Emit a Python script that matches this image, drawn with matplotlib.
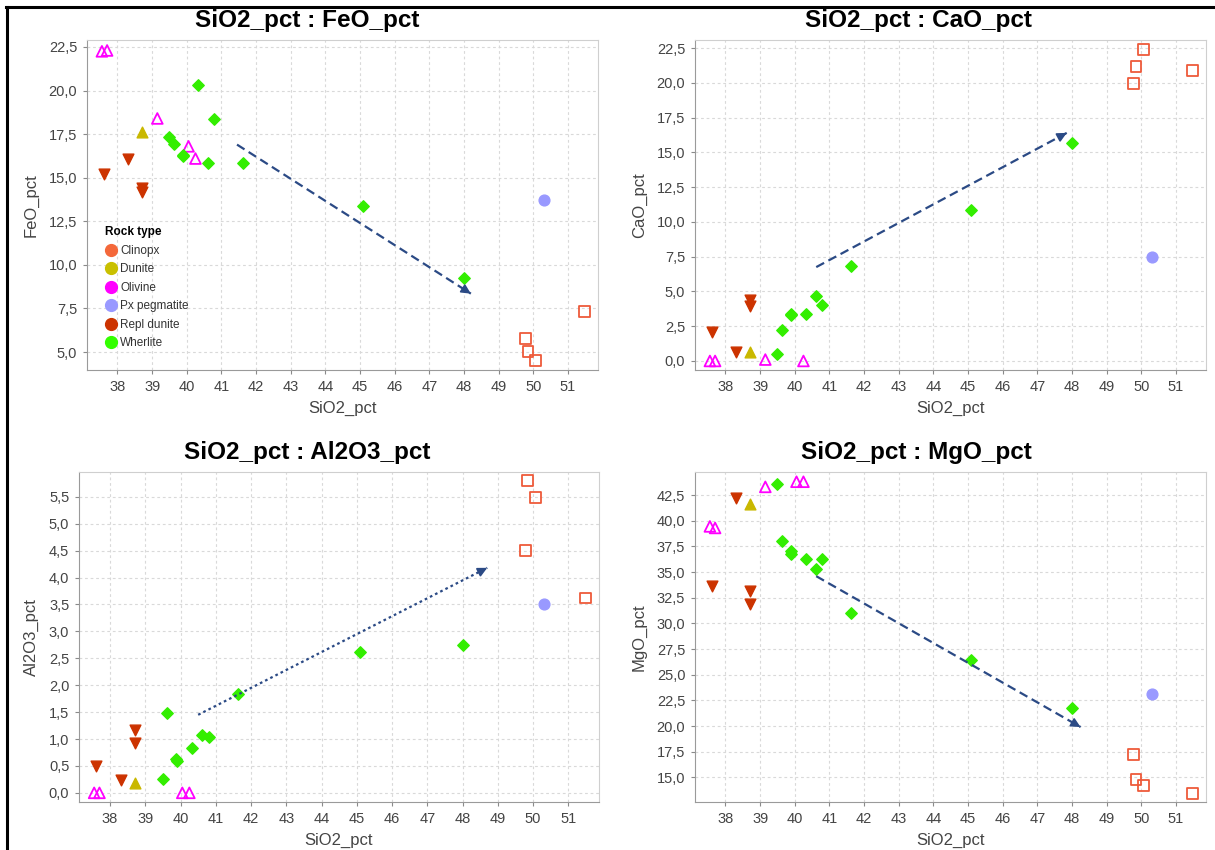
import numpy as np
import matplotlib
matplotlib.use('Agg')
from matplotlib import pyplot as plt
from matplotlib.lines import Line2D
from matplotlib.ticker import FuncFormatter, MultipleLocator

plt.rcParams['font.family'] = ['Liberation Sans', 'DejaVu Sans']

nan = np.nan

# SiO2 per rock type (x in all four panels)
clinopx_sio2 = [49.78, 49.85, 50.07, 51.48]
dunite_sio2 = [38.7]
olivine_sio2 = [37.55, 37.7, 39.15, 40.05, 40.25]
pxpeg_sio2 = [50.3]
repl_sio2 = [37.6, 38.3, 38.7, 38.7]
wherlite_sio2 = [39.5, 39.62, 39.88, 39.9, 40.33, 40.6, 40.8, 41.62, 45.1, 48.0]

# FeO_pct
clinopx_feo = [5.8, 5.05, 4.5, 7.3]
dunite_feo = [17.6]
olivine_feo = [22.25, 22.3, 18.4, 16.8, 16.1]
pxpeg_feo = [13.7]
repl_feo = [15.2, 16.05, 14.4, 14.2]
wherlite_feo = [17.35, 16.95, 16.3, 16.25, 20.3, 15.85, 18.35, 15.85, 13.35, 9.25]

# CaO_pct
clinopx_cao = [19.95, 21.2, 22.4, 20.9]
dunite_cao = [0.65]
olivine_cao = [0.0, 0.0, 0.1, nan, 0.0]
pxpeg_cao = [7.45]
repl_cao = [2.1, 0.65, 4.35, 3.95]
wherlite_cao = [0.5, 2.25, 3.4, 3.3, 3.35, 4.7, 4.0, 6.8, 10.85, 15.65]

# Al2O3_pct
clinopx_al2o3 = [4.5, 5.8, 5.48, 3.62]
dunite_al2o3 = [0.19]
olivine_al2o3 = [0.0, 0.0, nan, 0.0, 0.0]
pxpeg_al2o3 = [3.51]
repl_al2o3 = [0.49, 0.23, 1.16, 0.92]
wherlite_al2o3 = [0.25, 1.48, 0.63, 0.6, 0.83, 1.07, 1.03, 1.84, 2.62, 2.75]

# MgO_pct
clinopx_mgo = [17.25, 14.75, 14.2, 13.4]
dunite_mgo = [41.6]
olivine_mgo = [39.45, 39.3, 43.3, 43.8, 43.8]
pxpeg_mgo = [23.1]
repl_mgo = [33.6, 42.2, 33.15, 31.9]
wherlite_mgo = [43.6, 38.0, 37.1, 36.8, 36.3, 35.3, 36.3, 31.0, 26.4, 21.8]

# trend arrows (start, end) per panel
feo_arrow = [(41.45, 16.9), (48.2, 8.35)]
cao_arrow = [(40.62, 6.75), (47.85, 16.4)]
al2o3_arrow = [(40.5, 1.45), (48.7, 4.18)]
mgo_arrow = [(40.62, 34.6), (48.25, 19.9)]

rock_types = ['Clinopx', 'Dunite', 'Olivine', 'Px pegmatite', 'Repl dunite', 'Wherlite']
legend_colors = ['#f4683a', '#c9c000', '#ff00ff', '#9999ff', '#cc3300', '#33ff00']

x_sets = [clinopx_sio2, dunite_sio2, olivine_sio2, pxpeg_sio2, repl_sio2, wherlite_sio2]
panels = [
    ('FeO_pct', [clinopx_feo, dunite_feo, olivine_feo, pxpeg_feo, repl_feo, wherlite_feo],
     feo_arrow, '--', (3.97, 22.9), 2.5, [87, 40, 511, 330], (307, 20)),
    ('CaO_pct', [clinopx_cao, dunite_cao, olivine_cao, pxpeg_cao, repl_cao, wherlite_cao],
     cao_arrow, '--', (-0.65, 23.08), 2.5, [695, 40, 511, 330], (918, 20)),
    ('Al2O3_pct', [clinopx_al2o3, dunite_al2o3, olivine_al2o3, pxpeg_al2o3, repl_al2o3, wherlite_al2o3],
     al2o3_arrow, ':', (-0.17, 5.96), 0.5, [79, 472, 520, 330], (307, 452)),
    ('MgO_pct', [clinopx_mgo, dunite_mgo, olivine_mgo, pxpeg_mgo, repl_mgo, wherlite_mgo],
     mgo_arrow, '--', (12.6, 44.75), 2.5, [695, 472, 511, 330], (916, 452)),
]

W, H = 1215, 850
fig = plt.figure(figsize=(W / 100, H / 100), dpi=100)
fig.patch.set_facecolor('white')

comma_fmt = FuncFormatter(lambda v, p: ('%.1f' % v).replace('.', ','))
arrow_color = '#2b4a85'

for name, ys, arrow, ls, ylim, ystep, box, tpos in panels:
    l, t, w, h = box
    ax = fig.add_axes([l / W, (H - t - h) / H, w / W, h / H])

    # scatter each rock type
    ax.scatter(x_sets[0], ys[0], marker='s', s=62, facecolors='none',
               edgecolors='#ee5a3a', linewidths=1.3, zorder=3)
    ax.scatter(x_sets[1], ys[1], marker='^', s=60, color='#c9b800', zorder=3)
    ax.scatter(x_sets[2], ys[2], marker='^', s=60, facecolors='none',
               edgecolors='#ff00ff', linewidths=1.3, zorder=3)
    ax.scatter(x_sets[3], ys[3], marker='o', s=60, color='#9999ff', zorder=3)
    ax.scatter(x_sets[4], ys[4], marker='v', s=60, color='#cc3300', zorder=3)
    ax.scatter(x_sets[5], ys[5], marker='D', s=34, color='#33ee00', zorder=3)

    # trend arrow: line + solid head
    (x0, y0), (x1, y1) = arrow
    dash = (0, (4, 2.2)) if ls == '--' else (0, (1.2, 1.4))
    ax.plot([x0, x1], [y0, y1], linestyle=dash, color=arrow_color, lw=1.6, zorder=4)
    ax.annotate('', xy=(x1, y1), xytext=(x1 - 0.03 * (x1 - x0), y1 - 0.03 * (y1 - y0)),
                arrowprops=dict(arrowstyle='-|>', color=arrow_color, lw=1.2,
                                mutation_scale=14, shrinkA=0, shrinkB=0), zorder=5)

    ax.set_xlim(37.12, 51.87)
    ax.set_ylim(*ylim)
    ax.xaxis.set_major_locator(MultipleLocator(1))
    ax.yaxis.set_major_locator(MultipleLocator(ystep))
    ax.yaxis.set_major_formatter(comma_fmt)

    ax.grid(True, color='#d9d9d9', linestyle=(0, (2.5, 2.5)), lw=0.8)
    ax.set_axisbelow(True)
    for side in ['left', 'bottom']:
        ax.spines[side].set_color('#9a9a9a')
    for side in ['top', 'right']:
        ax.spines[side].set_color('#cfcfcf')
    ax.tick_params(length=3, color='#8a8a8a', labelcolor='#444444', labelsize=10.5, pad=4)

    ax.set_xlabel('SiO2_pct', fontsize=12, color='#444444', labelpad=5)
    ax.set_ylabel(name, fontsize=12, color='#444444', labelpad=7)
    fig.text(tpos[0] / W, 1 - tpos[1] / H, 'SiO2_pct : ' + name, ha='center', va='center',
             fontsize=17.5, fontweight='bold')

    if name == 'FeO_pct':
        handles = [Line2D([], [], marker='o', linestyle='', markersize=8.5,
                          markerfacecolor=c, markeredgecolor=c) for c in legend_colors]
        leg = ax.legend(handles, rock_types, title='Rock type', loc='upper left',
                        bbox_to_anchor=(0.02, 0.46), frameon=False, fontsize=8.5,
                        title_fontproperties={'weight': 'bold', 'size': 8.5},
                        handlelength=0.9, handletextpad=0.35, labelspacing=0.55,
                        borderpad=0.2, alignment='left')
        for txt in leg.get_texts():
            txt.set_color('#333333')

# screenshot frame on the left and top
fig.add_artist(Line2D([6.5 / W, 6.5 / W], [0, 1 - 6.5 / H], color='black', lw=2.2,
                      transform=fig.transFigure))
fig.add_artist(Line2D([5.5 / W, 1], [1 - 6.5 / H, 1 - 6.5 / H], color='black', lw=2.2,
                      transform=fig.transFigure))

plt.savefig('out.png', dpi=100)
